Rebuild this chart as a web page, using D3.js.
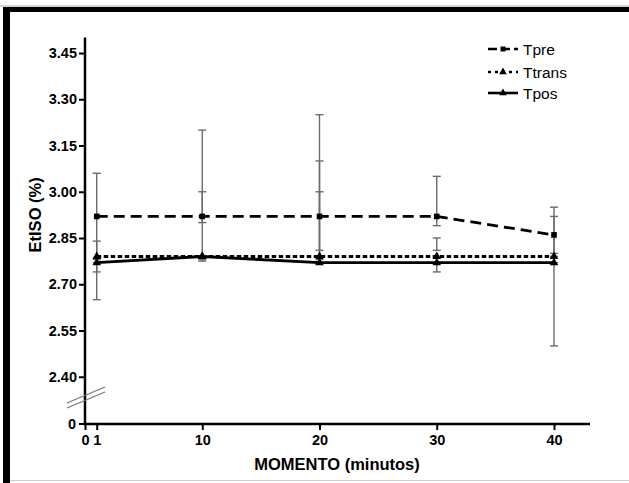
<!DOCTYPE html>
<html>
<head>
<meta charset="utf-8">
<script src="https://cdn.jsdelivr.net/npm/d3@7"></script>
<style>
  body { margin: 0; background: #fff; }
  svg { display: block; font-family: "Liberation Sans", Arial, sans-serif; }
</style>
</head>
<body>
<div id="chart"></div>
<script>
// Data
const moments = [1, 10, 20, 30, 40];
const seriesNames = ["Tpre", "Ttrans", "Tpos"];

const tpreMean = [2.92, 2.92, 2.92, 2.92, 2.86];
const tpreHi   = [3.06, 3.20, 3.25, 3.05, 2.95];
const tpreLo   = [2.78, 2.90, 2.81, 2.89, 2.80];

const ttransMean = [2.79, 2.79, 2.79, 2.79, 2.79];
const ttransHi   = [2.84, 3.00, 3.10, 2.85, 2.92];
const ttransLo   = [2.74, 2.78, 2.78, 2.81, 2.79];

const tposMean = [2.77, 2.79, 2.77, 2.77, 2.77];
const tposHi   = [2.77, 2.79, 3.00, 2.77, 2.77];
const tposLo   = [2.65, 2.775, 2.77, 2.74, 2.50];

const yTicks = [2.40, 2.55, 2.70, 2.85, 3.00, 3.15, 3.30, 3.45];
const xTicks = [0, 1, 10, 20, 30, 40];

const width = 629, height = 483;

const svg = d3.select('#chart')
  .append('svg')
  .attr('width', width)
  .attr('height', height);

// Outer frame (thick black top and left, thin gray edges)
svg.append('line').attr('x1', 0).attr('x2', width).attr('y1', 6).attr('y2', 6)
  .attr('stroke', '#aaa').attr('stroke-width', 1);
svg.append('rect').attr('x', 3).attr('y', 7).attr('width', width - 3).attr('height', 5).attr('fill', '#000');
svg.append('rect').attr('x', 3).attr('y', 7).attr('width', 7).attr('height', height - 7).attr('fill', '#000');
svg.append('line').attr('x1', 10).attr('x2', width).attr('y1', 480.5).attr('y2', 480.5)
  .attr('stroke', '#ccc').attr('stroke-width', 1);

// Scales
const x = d3.scaleLinear().domain([0, 40]).range([85, 554]);
const y = d3.scaleLinear().domain([2.40, 3.50]).range([376.75, 37.6]);
const axisY0 = 424;

// Y axis
const gy = svg.append('g')
  .attr('transform', `translate(${x(0)},0)`)
  .call(d3.axisLeft(y).tickValues(yTicks).tickFormat(d3.format('.2f')).tickSize(6).tickSizeOuter(0));
gy.select('.domain').remove();
svg.append('line')
  .attr('x1', x(0)).attr('x2', x(0))
  .attr('y1', y(3.50)).attr('y2', axisY0 + 1)
  .attr('stroke', '#000').attr('stroke-width', 2.5);

// "0" tick at the base of the broken axis
svg.append('line').attr('x1', x(0) - 6).attr('x2', x(0)).attr('y1', axisY0).attr('y2', axisY0)
  .attr('stroke', '#000').attr('stroke-width', 2);
svg.append('text').attr('x', x(0) - 9).attr('y', axisY0).attr('dy', '0.35em')
  .attr('text-anchor', 'end').attr('font-size', 14.5).attr('font-weight', 'bold').text('0');

// X axis
const gx = svg.append('g')
  .attr('transform', `translate(0,${axisY0})`)
  .call(d3.axisBottom(x).tickValues(xTicks).tickFormat(d3.format('d')).tickSize(6).tickSizeOuter(0));
gx.select('.domain').remove();
svg.append('line')
  .attr('x1', x(0) - 1).attr('x2', 590)
  .attr('y1', axisY0).attr('y2', axisY0)
  .attr('stroke', '#000').attr('stroke-width', 2.5);

[gx, gy].forEach(g => {
  g.attr('font-size', null).attr('font-family', null);
  g.selectAll('.tick line').attr('stroke', '#000').attr('stroke-width', 2);
  g.selectAll('.tick text')
    .style('font-size', '14.5px')
    .style('font-weight', 'bold')
    .attr('fill', '#000');
});
gx.selectAll('.tick text').attr('dy', '0.8em');
gy.selectAll('.tick text').attr('x', -8);

// Axis break marks
[0, 5].forEach(off => {
  svg.append('line')
    .attr('x1', 67).attr('y1', 403 + off)
    .attr('x2', 105).attr('y2', 387 + off)
    .attr('stroke', '#777').attr('stroke-width', 1.3);
});

// Axis titles
svg.append('text')
  .attr('transform', `translate(41,${y(2.925)}) rotate(-90)`)
  .attr('text-anchor', 'middle')
  .attr('font-size', 16.5).attr('font-weight', 'bold')
  .text('EtISO (%)');

svg.append('text')
  .attr('x', 337).attr('y', 470)
  .attr('text-anchor', 'middle')
  .attr('font-size', 16.5).attr('font-weight', 'bold')
  .text('MOMENTO (minutos)');

// Series definitions
const series = [
  { name: seriesNames[0], mean: tpreMean, hi: tpreHi, lo: tpreLo, dash: '11,6', marker: 'square' },
  { name: seriesNames[1], mean: ttransMean, hi: ttransHi, lo: ttransLo, dash: '4.5,2.5', marker: 'triangle' },
  { name: seriesNames[2], mean: tposMean, hi: tposHi, lo: tposLo, dash: null, marker: 'triangle' }
];

// Error bars first (gray)
const capW = 4;
series.forEach(s => {
  moments.forEach((m, i) => {
    const cx = x(m);
    const g = svg.append('g').attr('stroke', '#6e6a6a').attr('stroke-width', 1.4);
    g.append('line').attr('x1', cx).attr('x2', cx).attr('y1', y(s.hi[i])).attr('y2', y(s.lo[i]));
    g.append('line').attr('x1', cx - capW).attr('x2', cx + capW).attr('y1', y(s.hi[i])).attr('y2', y(s.hi[i]));
    g.append('line').attr('x1', cx - capW).attr('x2', cx + capW).attr('y1', y(s.lo[i])).attr('y2', y(s.lo[i]));
  });
});

// Lines and markers
const line = d3.line().x(d => x(d[0])).y(d => y(d[1]));
const symbolFor = t => t === 'square' ? d3.symbolSquare : d3.symbolTriangle;

series.forEach(s => {
  const pts = moments.map((m, i) => [m, s.mean[i]]);
  svg.append('path')
    .datum(pts)
    .attr('d', line)
    .attr('fill', 'none')
    .attr('stroke', '#000')
    .attr('stroke-width', 2.8)
    .attr('stroke-dasharray', s.dash);
  svg.selectAll(null)
    .data(pts)
    .enter()
    .append('path')
    .attr('transform', d => `translate(${x(d[0])},${y(d[1])})`)
    .attr('d', d3.symbol().type(symbolFor(s.marker)).size(32))
    .attr('fill', '#000');
});

// Legend
const legendRows = [49, 72, 93];
series.forEach((s, i) => {
  const ly = legendRows[i];
  svg.append('line')
    .attr('x1', 488).attr('x2', 518)
    .attr('y1', ly).attr('y2', ly)
    .attr('stroke', '#000').attr('stroke-width', 2.6)
    .attr('stroke-dasharray', s.dash ? (i === 0 ? '9,4' : '3,4') : null);
  svg.append('path')
    .attr('transform', `translate(503,${ly})`)
    .attr('d', d3.symbol().type(symbolFor(s.marker)).size(25))
    .attr('fill', '#000');
  svg.append('text')
    .attr('x', 523).attr('y', ly).attr('dy', '0.36em')
    .attr('font-size', 15.5)
    .text(s.name);
});
</script>
</body>
</html>
